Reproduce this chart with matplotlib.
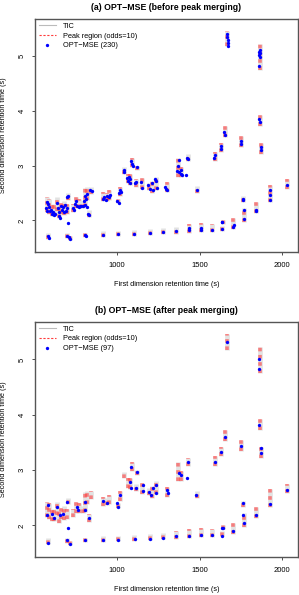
import matplotlib
matplotlib.use("Agg")
import matplotlib.pyplot as plt
from matplotlib.lines import Line2D

plt.rcParams['font.family'] = ['Liberation Sans', 'DejaVu Sans']

# peak regions (odds=10): first dim rt, second dim low / high
peak_rt1 = [575, 588, 605, 618, 638, 652, 665, 680, 697, 703,
            735, 752, 768, 798, 808, 818, 832, 845, 918, 938,
            955, 1005, 1020, 1042, 1068, 1080, 1090, 1118, 1122, 1152,
            1195, 1215, 1238, 1300, 1372, 1390, 1428, 1482, 1590, 1630,
            1652, 1668, 1750, 1862, 1862, 1871, 585, 700, 717, 808,
            918, 1008, 1106, 1199, 1279, 1359, 1435, 1506, 1576, 1636,
            1640, 1704, 1760, 1766, 1841, 1925, 2025]
peak_lo = [2.15, 2.12, 2.08, 2.08, 2.18, 2.04, 2.12, 2.10, 2.12, 2.38,
           2.15, 2.22, 2.22, 2.22, 2.25, 2.38, 2.06, 2.48, 2.35, 2.36,
           2.38, 2.32, 2.45, 2.85, 2.68, 2.65, 2.98, 2.62, 2.92, 2.57,
           2.55, 2.50, 2.56, 2.52, 2.80, 2.80, 3.08, 2.50, 3.08, 3.25,
           3.52, 5.18, 3.35, 4.75, 3.72, 3.22, 1.66, 1.68, 1.64, 1.70,
           1.70, 1.71, 1.72, 1.73, 1.75, 1.76, 1.78, 1.79, 1.79, 1.80,
           1.94, 1.85, 2.34, 1.98, 2.14, 2.33, 2.58]
peak_hi = [2.42, 2.40, 2.30, 2.28, 2.42, 2.30, 2.32, 2.35, 2.30, 2.50,
           2.30, 2.42, 2.40, 2.35, 2.60, 2.62, 2.20, 2.62, 2.52, 2.50,
           2.55, 2.40, 2.62, 2.97, 2.85, 2.85, 3.15, 2.75, 3.00, 2.77,
           2.68, 2.72, 2.80, 2.70, 3.15, 2.98, 3.22, 2.63, 3.25, 3.42,
           3.72, 5.47, 3.55, 5.22, 3.92, 3.42, 1.78, 1.78, 1.72, 1.78,
           1.80, 1.80, 1.83, 1.84, 1.87, 1.89, 1.93, 1.96, 1.93, 1.90,
           2.00, 2.05, 2.45, 2.22, 2.34, 2.65, 2.75]

# OPT-MSE peaks before merging
opt_a_rt1 = [572, 575, 580, 585, 590, 595, 600, 605, 612, 620,
             625, 640, 643, 648, 652, 655, 660, 668, 675, 680,
             685, 690, 697, 700, 705, 705,
             735, 740, 748, 752, 760, 770, 778, 785, 795, 800,
             805, 808, 812, 818, 822, 828, 832, 840, 848,
             915, 925, 935, 940, 950, 958, 1000, 1010, 1015, 1020, 1025,
             1040, 1045, 1062, 1068, 1072, 1078, 1082, 1088, 1092, 1098,
             1110, 1118, 1122,
             1148, 1152, 1190, 1198, 1212, 1218, 1232, 1238, 1245, 1288,
             1295, 1300,
             1365, 1370, 1375, 1378, 1385, 1390, 1395, 1415, 1425, 1430, 1482,
             1588, 1592, 1628, 1632, 1650, 1654, 1665, 1667, 1669, 1670,
             1672, 1749, 1751, 1858, 1860, 1862, 1864, 1866, 1860, 1861,
             1863, 1870, 1872,
             583, 588, 700, 708, 717, 808, 812, 918, 1008, 1106,
             1199, 1279, 1359, 1435, 1437, 1506, 1508, 1576, 1634, 1638,
             1636, 1704, 1705, 1760, 1762, 1766, 1768, 1840, 1842, 1924,
             1925, 1926, 2025]
opt_a_rt2 = [2.22, 2.33, 2.18, 2.30, 2.25, 2.17, 2.20, 2.12, 2.15, 2.10,
             2.12, 2.32, 2.22, 2.15, 2.08, 2.05, 2.27, 2.20, 2.25, 2.15,
             2.28, 2.18, 2.22, 2.42, 2.45, 1.96,
             2.22, 2.20, 2.30, 2.35, 2.27, 2.25, 2.27, 2.26, 2.27, 2.36,
             2.28, 2.45, 2.40, 2.25, 2.48, 2.12, 2.10, 2.55, 2.53,
             2.40, 2.42, 2.38, 2.45, 2.42, 2.47, 2.36, 2.32, 2.50, 2.55, 2.52,
             2.92, 2.88, 2.78, 2.72, 2.80, 2.68, 2.75, 3.08, 3.03, 3.00,
             2.68, 2.70, 2.97,
             2.70, 2.60, 2.65, 2.58, 2.68, 2.55, 2.75, 2.72, 2.60, 2.62,
             2.57, 2.55,
             2.90, 3.00, 2.88, 3.10, 2.85, 2.92, 2.83, 2.84, 3.15, 3.12, 2.55,
             3.15, 3.20, 3.30, 3.36, 3.62, 3.57, 5.40, 5.35, 5.30, 5.25,
             5.18, 3.45, 3.40, 5.08, 5.03, 5.12, 4.98, 5.06, 4.83, 3.85,
             3.80, 3.35, 3.28,
             1.72, 1.68, 1.72, 1.70, 1.67, 1.74, 1.72, 1.74, 1.75, 1.76,
             1.77, 1.79, 1.80, 1.82, 1.87, 1.83, 1.87, 1.83, 1.98, 1.98,
             1.84, 1.88, 1.91, 2.38, 2.40, 2.20, 2.03, 2.17, 2.20, 2.38,
             2.47, 2.55, 2.65]

# OPT-MSE peaks after merging
opt_b_rt1 = [586, 577, 607, 617, 637, 657, 677, 697, 705, 757,
             767, 807, 807, 831, 918, 938, 998, 1008, 1018,
             1088, 1120, 1078, 1088, 1118, 1155, 1155, 1193, 1209, 1219,
             1239, 1239, 1303, 1307, 1375, 1389, 1423, 1429, 1480, 1590,
             1668, 1861, 1861, 1861, 1656, 1751, 1871, 1871, 1630,
             1760, 1760, 1770, 1841, 1704, 1925, 2025,
             586, 697, 717, 807, 918, 1008, 1108, 1199, 1279, 1359,
             1435, 1506, 1576, 1635, 1640, 1636]
opt_b_rt2 = [2.36, 2.18, 2.21, 2.13, 2.33, 2.18, 2.21, 2.42, 1.95, 2.33,
             2.27, 2.42, 2.27, 2.13, 2.45, 2.40, 2.40, 2.33, 2.55,
             3.05, 2.96, 2.78, 2.67, 2.67, 2.73, 2.62, 2.60, 2.55, 2.67,
             2.73, 2.58, 2.64, 2.58, 2.94, 2.91, 2.85, 3.15, 2.55, 3.15,
             5.31, 5.00, 4.83, 3.82, 3.60, 3.44, 3.40, 3.31, 3.33,
             2.40, 2.18, 2.04, 2.18, 1.90, 2.38, 2.64,
             1.69, 1.73, 1.67, 1.73, 1.73, 1.73, 1.76, 1.76, 1.78, 1.80,
             1.80, 1.82, 1.82, 1.96, 1.96, 1.80]

titles = ['(a) OPT\u2212MSE (before peak merging)',
          '(b) OPT\u2212MSE (after peak merging)']
counts = [230, 97]
x_ticks = [1000, 1500, 2000]
y_ticks = [2, 3, 4, 5]


def draw_panel(ax, rt1, rt2, title, n):
    """
        One 2D retention-time panel.
    """
    ax.vlines(peak_rt1, peak_lo, peak_hi, colors='#e2e2e2', linewidth=3.4)
    ax.vlines(peak_rt1, peak_lo, peak_hi, colors='#ff3b3b', alpha=0.6,
              linewidth=2.6, linestyles=(0, (1.0, 1.0)))
    ax.plot(rt1, rt2, 'o', color='blue', ms=2.4, mec='none')

    ax.set_xlim(505, 2095)
    ax.set_ylim(1.43, 5.68)
    ax.set_xticks(x_ticks)
    ax.set_yticks(y_ticks)
    ax.tick_params(labelsize=5.5, length=2.5, width=0.6, color='#333333',
                   direction='out')
    ax.tick_params(axis='x', pad=5)
    ax.tick_params(axis='y', pad=4)
    for lab in ax.get_yticklabels():
        lab.set_rotation(90)
        lab.set_va('center')
    for sp in ax.spines.values():
        sp.set_color('#555555')
        sp.set_linewidth(1.0)

    ax.set_xlabel('First dimension retention time (s)', fontsize=5.2)
    ax.set_ylabel('Second dimension retention time (s)', fontsize=5.2)
    ax.xaxis.set_label_coords(0.5, -0.125)
    ax.yaxis.set_label_coords(-0.105, 0.5)
    ax.text(0.5, 1.05, title, transform=ax.transAxes, ha='center',
            va='center', fontsize=6.3, fontweight='bold')

    handles = [
        Line2D([], [], color='#bbbbbb', linewidth=0.8),
        Line2D([], [], color='#ff3b3b', linewidth=0.8, linestyle=(0, (2, 1.5))),
        Line2D([], [], color='blue', marker='o', ms=2.4, mec='none',
               linestyle='none'),
    ]
    labels = ['TIC', 'Peak region (odds=10)', 'OPT\u2212MSE (%d)' % n]
    ax.legend(handles, labels, loc='upper left', frameon=False, fontsize=5.3,
              handlelength=2.3, handletextpad=1.0, labelspacing=0.35,
              borderaxespad=0.3, borderpad=0.2)


fig = plt.figure(figsize=(2.99, 5.95), dpi=100)
ax_a = fig.add_axes([0.117, 0.577, 0.88, 0.391])
ax_b = fig.add_axes([0.117, 0.064, 0.88, 0.395])

draw_panel(ax_a, opt_a_rt1, opt_a_rt2, titles[0], counts[0])
draw_panel(ax_b, opt_b_rt1, opt_b_rt2, titles[1], counts[1])

fig.savefig('out.png', dpi=100)
